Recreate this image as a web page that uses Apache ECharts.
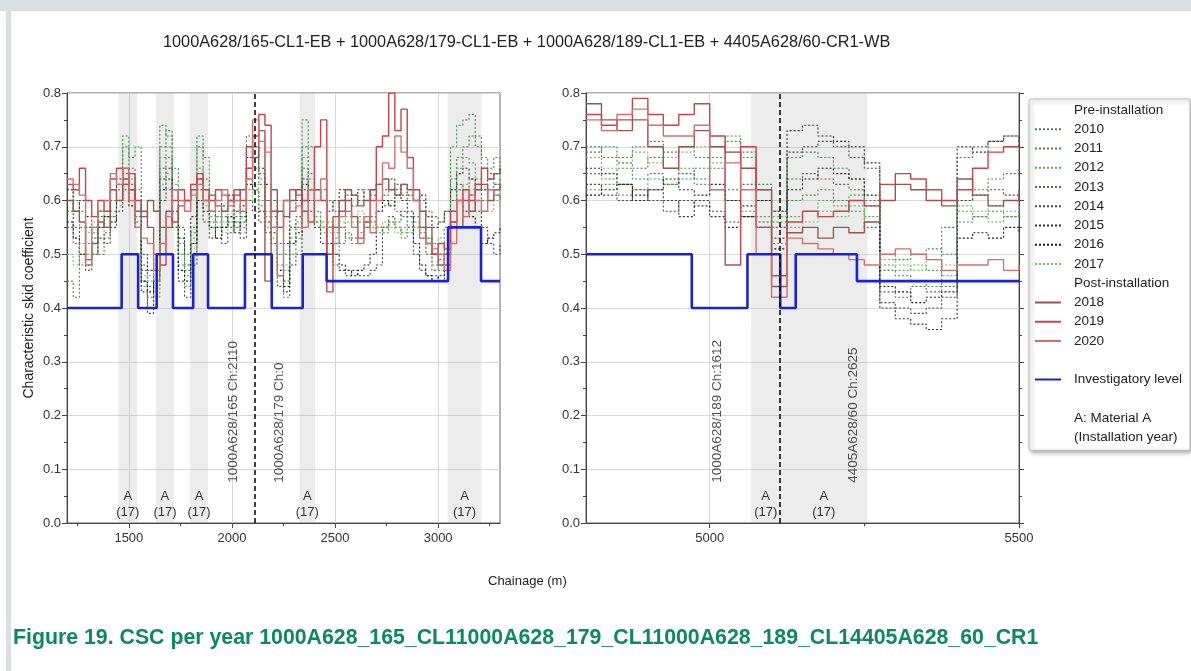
<!DOCTYPE html>
<html><head><meta charset="utf-8">
<script src="https://cdn.jsdelivr.net/npm/echarts@6/dist/echarts.min.js"></script>
<style>html,body{margin:0;padding:0;background:#fff}#c{width:1191px;height:671px}</style>
</head><body><div id="c"></div>
<script>
const titleText = '1000A628/165-CL1-EB + 1000A628/179-CL1-EB + 1000A628/189-CL1-EB + 4405A628/60-CR1-WB';
const captionText = 'Figure 19. CSC per year 1000A628_165_CL11000A628_179_CL11000A628_189_CL14405A628_60_CR1';
const xName = 'Chainage (m)';
const yName = 'Characteristic skid coefficient';

const preYears = ['2010','2011','2012','2013','2014','2015','2016','2017'];
const postYears = ['2018','2019','2020'];

const leftTicks = [1500, 2000, 2500, 3000];
const leftMinorTicks = [1250, 1750, 2250, 2750, 3250];
const rightTicks = [5000, 5500];
const rightMinorTicks = [5250];

const leftChainage = [1200,1230,1260,1290,1320,1350,1380,1410,1440,1470,1500,1530,1560,1590,1620,1650,1680,1710,1740,1770,1800,1830,1860,1890,1920,1950,1980,2010,2040,2070,2100,2130,2160,2190,2220,2250,2280,2310,2340,2370,2400,2430,2460,2490,2520,2550,2580,2610,2640,2670,2700,2730,2760,2790,2820,2850,2880,2910,2940,2970,3000,3030,3060,3090,3120,3150,3180,3210,3240,3270,3300];
const rightChainage = [4800,4825,4850,4875,4900,4925,4950,4975,5000,5025,5050,5075,5100,5125,5150,5175,5200,5225,5250,5275,5300,5325,5350,5375,5400,5425,5450,5475,5500];

// Left panel, pre-installation
const left2010 = [0.45,0.42,0.50,0.55,0.53,0.57,0.55,0.58,0.60, 0.70,0.66,0.62, 0.45,0.42,0.44, 0.70,0.73,0.62, 0.48,0.46,0.52, 0.70,0.64, 0.58,0.57,0.55,0.56,0.58,0.57, 0.66,0.70,0.65,0.60,0.58, 0.50,0.45,0.55,0.56, 0.70,0.65,0.58, 0.56,0.55,0.50,0.52,0.54,0.53,0.56,0.55,0.57, 0.58,0.59,0.60,0.58,0.57,0.55, 0.56,0.54,0.50,0.47,0.49,0.52, 0.64,0.68,0.70,0.72,0.70,0.66, 0.65,0.63,0.64];
const left2011 = [0.55,0.52,0.48,0.50,0.54,0.58,0.57,0.60,0.63, 0.72,0.68,0.70, 0.48,0.40,0.46, 0.74,0.72,0.66, 0.52,0.47,0.55, 0.72,0.68, 0.60,0.56,0.58,0.60,0.55,0.57, 0.72,0.68,0.63,0.58,0.55, 0.46,0.42,0.50,0.55, 0.75,0.70,0.62, 0.60,0.56,0.54,0.55,0.53,0.52,0.54,0.55,0.56, 0.55,0.54,0.56,0.55,0.54,0.55, 0.57,0.55,0.53,0.52,0.50,0.55, 0.70,0.74,0.75,0.76,0.72,0.68, 0.66,0.68,0.65];
const left2012 = [0.60,0.58,0.55,0.52,0.50,0.55,0.53,0.56,0.60, 0.66,0.64,0.60, 0.44,0.46,0.42, 0.68,0.70,0.63, 0.50,0.44,0.50, 0.66,0.62, 0.57,0.55,0.56,0.58,0.56,0.55, 0.64,0.63,0.60,0.57,0.55, 0.48,0.47,0.52,0.53, 0.68,0.64,0.57, 0.54,0.55,0.53,0.55,0.56,0.55,0.57,0.56,0.55, 0.54,0.55,0.56,0.55,0.53,0.54, 0.55,0.53,0.50,0.48,0.47,0.50, 0.62,0.66,0.68,0.67,0.64,0.62, 0.60,0.61,0.60];
const left2013 = [0.62,0.60,0.58,0.55,0.52,0.50,0.54,0.57,0.62, 0.65,0.63,0.57, 0.47,0.44,0.48, 0.66,0.68,0.60, 0.55,0.50,0.54, 0.64,0.60, 0.56,0.58,0.57,0.55,0.57,0.60, 0.62,0.66,0.64,0.60,0.57, 0.52,0.50,0.55,0.57, 0.66,0.62,0.60, 0.62,0.60,0.58,0.60,0.61,0.59,0.60,0.62,0.61, 0.60,0.61,0.62,0.63,0.61,0.60, 0.62,0.60,0.58,0.57,0.56,0.58, 0.60,0.63,0.62,0.64,0.62,0.60, 0.62,0.63,0.62];
const left2014 = [0.58,0.55,0.50,0.47,0.50,0.53,0.52,0.55,0.58, 0.62,0.60,0.56, 0.43,0.39,0.45, 0.60,0.62,0.55, 0.45,0.42,0.48, 0.60,0.56, 0.53,0.55,0.52,0.54,0.56,0.53, 0.60,0.58,0.56,0.54,0.52, 0.44,0.43,0.48,0.50, 0.62,0.58,0.55, 0.52,0.50,0.48,0.47,0.46,0.47,0.46,0.46,0.47, 0.48,0.55,0.57,0.56,0.58,0.57, 0.50,0.47,0.46,0.46,0.45,0.47, 0.58,0.62,0.60,0.61,0.58,0.55, 0.52,0.50,0.52];
const left2015 = [0.62,0.58,0.60,0.57,0.55,0.58,0.60,0.62,0.64, 0.66,0.62,0.60, 0.50,0.47,0.49, 0.64,0.66,0.62, 0.53,0.48,0.57, 0.62,0.60, 0.58,0.60,0.59,0.61,0.58,0.59, 0.68,0.70,0.66,0.63,0.60, 0.55,0.52,0.58,0.60, 0.64,0.60,0.62, 0.60,0.58,0.60,0.62,0.60,0.61,0.62,0.60,0.62, 0.63,0.62,0.64,0.62,0.63,0.61, 0.60,0.61,0.57,0.55,0.56,0.58, 0.62,0.65,0.66,0.64,0.63,0.62, 0.64,0.65,0.66];
const left2016 = [0.56,0.53,0.50,0.48,0.52,0.55,0.57,0.56,0.60, 0.63,0.59,0.55, 0.45,0.43,0.47, 0.62,0.64,0.58, 0.47,0.45,0.52, 0.60,0.58, 0.55,0.53,0.55,0.57,0.54,0.56, 0.63,0.62,0.58,0.56,0.54, 0.47,0.44,0.52,0.54, 0.63,0.60,0.56, 0.55,0.52,0.50,0.48,0.47,0.46,0.47,0.48,0.50, 0.58,0.60,0.59,0.61,0.60,0.58, 0.52,0.48,0.46,0.45,0.46,0.48, 0.56,0.60,0.58,0.57,0.55,0.52, 0.53,0.54,0.55];
const left2017 = [0.50,0.48,0.52,0.54,0.56,0.55,0.58,0.57,0.59, 0.64,0.62,0.58, 0.46,0.45,0.50, 0.63,0.65,0.60, 0.50,0.48,0.53, 0.63,0.59, 0.55,0.57,0.54,0.56,0.55,0.54, 0.60,0.62,0.59,0.55,0.53, 0.50,0.48,0.53,0.55, 0.64,0.60,0.56, 0.55,0.54,0.55,0.56,0.57,0.56,0.58,0.57,0.56, 0.55,0.56,0.55,0.54,0.55,0.56, 0.55,0.54,0.53,0.52,0.53,0.55, 0.60,0.62,0.63,0.62,0.60,0.58, 0.58,0.60,0.59];
// Left panel, post-installation
const left2018 = [0.60,0.58,0.56,0.49,0.52,0.56,0.55,0.62,0.60, 0.64,0.62,0.58, 0.57,0.60,0.58, 0.55,0.58,0.56, 0.59,0.60,0.62, 0.64,0.60, 0.61,0.59,0.58,0.60,0.61,0.62, 0.70,0.68,0.73,0.45,0.62, 0.58,0.57,0.60,0.62, 0.58,0.56,0.62, 0.60,0.50,0.57,0.60,0.62,0.61,0.59,0.60,0.62, 0.63,0.64,0.62,0.61,0.63,0.62, 0.60,0.58,0.55,0.50,0.48,0.50, 0.58,0.55,0.60,0.58,0.62,0.63, 0.60,0.62,0.63];
const left2019 = [0.63,0.62,0.66,0.60,0.57,0.60,0.58,0.64,0.66, 0.63,0.65,0.60, 0.58,0.55,0.50, 0.48,0.55,0.60, 0.62,0.60,0.63, 0.65,0.62, 0.60,0.62,0.61,0.60,0.62,0.60, 0.66,0.72,0.76,0.74,0.58, 0.55,0.60,0.62,0.61, 0.60,0.62,0.70, 0.75,0.43,0.55,0.58,0.60,0.57,0.53,0.56,0.60, 0.70,0.72,0.80,0.73,0.77,0.68, 0.62,0.55,0.52,0.50,0.52,0.51, 0.56,0.60,0.62,0.60,0.63,0.66, 0.64,0.65,0.66];
const left2020 = [0.64,0.63,0.61,0.48,0.55,0.58,0.60,0.65,0.63, 0.66,0.60,0.55, 0.53,0.52,0.47, 0.52,0.57,0.62, 0.60,0.58,0.61, 0.63,0.60, 0.58,0.60,0.62,0.59,0.60,0.58, 0.64,0.75,0.71,0.69,0.55, 0.46,0.60,0.58,0.59, 0.55,0.62,0.60, 0.64,0.55,0.52,0.57,0.58,0.55,0.52,0.57,0.54, 0.60,0.67,0.66,0.72,0.69,0.66, 0.60,0.53,0.52,0.51,0.50,0.47, 0.52,0.60,0.57,0.61,0.60,0.58, 0.62,0.61,0.60];

// Right panel, pre-installation
const right2010 = [0.69,0.70,0.68,0.70,0.71,0.69,0.70,0.68,0.70,0.71,0.68,0.62,0.58,0.68,0.69,0.68,0.66,0.64,0.60,0.47,0.46,0.45,0.44,0.55,0.56,0.57,0.58,0.57,0.58];
const right2011 = [0.65,0.64,0.66,0.64,0.65,0.63,0.64,0.66,0.68,0.72,0.69,0.63,0.56,0.60,0.61,0.62,0.60,0.58,0.55,0.50,0.49,0.50,0.51,0.50,0.60,0.62,0.64,0.65,0.66];
const right2012 = [0.62,0.63,0.61,0.62,0.64,0.63,0.66,0.63,0.62,0.60,0.58,0.57,0.52,0.57,0.58,0.60,0.59,0.61,0.57,0.48,0.47,0.48,0.47,0.46,0.58,0.57,0.56,0.57,0.57];
const right2013 = [0.70,0.68,0.67,0.66,0.68,0.66,0.65,0.64,0.66,0.62,0.63,0.60,0.55,0.64,0.65,0.64,0.63,0.62,0.59,0.43,0.42,0.44,0.43,0.44,0.68,0.70,0.71,0.72,0.71];
const right2014 = [0.63,0.61,0.60,0.62,0.60,0.58,0.60,0.59,0.58,0.56,0.57,0.56,0.53,0.69,0.70,0.71,0.70,0.68,0.66,0.41,0.40,0.39,0.40,0.42,0.60,0.61,0.62,0.61,0.60];
const right2015 = [0.66,0.65,0.63,0.61,0.62,0.60,0.57,0.60,0.57,0.55,0.59,0.60,0.58,0.73,0.74,0.72,0.71,0.70,0.67,0.40,0.38,0.37,0.36,0.38,0.70,0.69,0.71,0.72,0.70];
const right2016 = [0.61,0.62,0.63,0.60,0.62,0.64,0.62,0.61,0.63,0.60,0.57,0.55,0.51,0.62,0.64,0.66,0.65,0.64,0.61,0.44,0.43,0.41,0.42,0.43,0.53,0.54,0.53,0.55,0.54];
const right2017 = [0.68,0.66,0.67,0.69,0.67,0.68,0.69,0.70,0.67,0.69,0.66,0.62,0.57,0.55,0.56,0.58,0.57,0.59,0.56,0.49,0.48,0.47,0.49,0.48,0.59,0.58,0.59,0.58,0.59];
// Right panel, post-installation
const right2018 = [0.78,0.75,0.73,0.75,0.70,0.66,0.70,0.73,0.70,0.69,0.66,0.62,0.44,0.54,0.55,0.53,0.55,0.54,0.56,0.60,0.63,0.62,0.60,0.59,0.64,0.61,0.59,0.60,0.62];
const right2019 = [0.76,0.74,0.75,0.79,0.76,0.74,0.76,0.78,0.72,0.48,0.70,0.55,0.46,0.56,0.58,0.57,0.58,0.60,0.59,0.63,0.65,0.64,0.62,0.60,0.62,0.66,0.69,0.70,0.70];
const right2020 = [0.75,0.73,0.76,0.77,0.74,0.72,0.72,0.74,0.62,0.67,0.62,0.50,0.42,0.53,0.52,0.51,0.50,0.49,0.48,0.50,0.51,0.50,0.49,0.47,0.48,0.48,0.49,0.47,0.48];

// Investigatory level (step breakpoints)
const leftLevelChainage = [1200,1465,1545,1635,1714,1812,1884,2063,2193,2343,2459,3048,3208,3300];
const leftLevelValue    = [0.40,0.50,0.40,0.50,0.40,0.50,0.40,0.50,0.40,0.50,0.45,0.55,0.45,0.45];
const rightLevelChainage = [4800,4971,5061,5114,5139,5238,5500];
const rightLevelValue    = [0.50,0.40,0.50,0.40,0.50,0.45,0.45];

// Material A sections (start, end) and section boundaries
const leftBands = [[1450,1540],[1632,1718],[1797,1884],[2328,2403],[3046,3210]];
const rightBands = [[5067,5114],[5114,5255]];
const bandLabel = 'A\n(17)';
const leftBoundary = 2110;
const rightBoundary = 5114;
const leftSectionLabels = [[2005, 0.075, '1000A628/165 Ch:2110'], [2228, 0.075, '1000A628/179 Ch:0']];
const rightSectionLabels = [[5013, 0.075, '1000A628/189 Ch:1612'], [5232, 0.075, '4405A628/60 Ch:2625']];

const leftData = {'2010':left2010,'2011':left2011,'2012':left2012,'2013':left2013,'2014':left2014,'2015':left2015,'2016':left2016,'2017':left2017,'2018':left2018,'2019':left2019,'2020':left2020};
const rightData = {'2010':right2010,'2011':right2011,'2012':right2012,'2013':right2013,'2014':right2014,'2015':right2015,'2016':right2016,'2017':right2017,'2018':right2018,'2019':right2019,'2020':right2020};

const colors = {
  '2010':'#52805a','2011':'#3f8f45','2012':'#5ea35e','2013':'#5b6b5b',
  '2014':'#4a4a4a','2015':'#333333','2016':'#1e1e1e','2017':'#7dbb70',
  '2018':'#9a5552','2019':'#c4454c','2020':'#d2706f'
};
const blue = '#1a22d8';
const FONT = 'Liberation Sans, Arial, Helvetica, sans-serif';

const chart = echarts.init(document.getElementById('c'), null, {renderer:'canvas'});

function yearSeries(year, xi, yi, chain, vals) {
  const isPre = preYears.includes(year);
  return {
    name: year, type: 'line', step: 'end', xAxisIndex: xi, yAxisIndex: yi,
    symbol: 'none', silent: true, z: isPre ? 2 : 3,
    data: chain.map((c, i) => [c, vals[i]]),
    lineStyle: isPre ? {color: colors[year], width: 1.1, type: [2, 2]} : {color: colors[year], width: 1.4},
    itemStyle: {color: colors[year]}
  };
}
function levelSeries(xi, yi, chain, vals, bands, boundary) {
  return {
    name: 'Investigatory level', type: 'line', step: 'end', xAxisIndex: xi, yAxisIndex: yi,
    symbol: 'none', silent: true, z: 4,
    data: chain.map((c, i) => [c, vals[i]]),
    lineStyle: {color: blue, width: 2.6}, itemStyle: {color: blue},
    markArea: {
      silent: true,
      itemStyle: {color: 'rgba(170,170,170,0.22)'},
      label: {show: true, position: 'insideBottom', distance: 3, formatter: bandLabel,
              fontSize: 13, lineHeight: 16, color: '#333', fontFamily: FONT},
      data: bands.map(b => [{xAxis: b[0]}, {xAxis: b[1]}])
    },
    markLine: {
      silent: true, symbol: ['none','none'], label: {show: false},
      lineStyle: {color: '#111', type: [5, 3], width: 1.6},
      data: [{xAxis: boundary}]
    }
  };
}
function textSeries(xi, yi, items) {
  return {
    type: 'scatter', name: '_labels' + xi, xAxisIndex: xi, yAxisIndex: yi, silent: true,
    symbolSize: 0, data: items, z: 5,
    label: {show: true, position: 'inside', rotate: 90, align: 'left', verticalAlign: 'middle',
            formatter: p => p.data[2], fontSize: 13.5, color: '#222', fontFamily: FONT}
  };
}
function dummy(name) {
  return {name: name, type: 'line', xAxisIndex: 0, yAxisIndex: 0, data: [], symbol: 'none',
          lineStyle: {opacity: 0}, itemStyle: {opacity: 0}};
}

const series = [];
preYears.concat(postYears).forEach(y => series.push(yearSeries(y, 0, 0, leftChainage, leftData[y])));
preYears.concat(postYears).forEach(y => series.push(yearSeries(y, 2, 1, rightChainage, rightData[y])));
series.push(levelSeries(0, 0, leftLevelChainage, leftLevelValue, leftBands, leftBoundary));
series.push(levelSeries(2, 1, rightLevelChainage, rightLevelValue, rightBands, rightBoundary));
series.push(textSeries(0, 0, leftSectionLabels));
series.push(textSeries(2, 1, rightSectionLabels));
['Pre-installation','Post-installation',' ','  ','A: Material A','(Installation year)'].forEach(n => series.push(dummy(n)));

const axisLabelStyle = {fontSize: 13, color: '#333', fontFamily: FONT};
const splitLineStyle = {show: true, lineStyle: {color: '#d8d8d8', width: 1}};
const axisLineStyle = {show: true, lineStyle: {color: '#444', width: 1}};

function mainX(grid, min, max, ticks) {
  return {type: 'value', gridIndex: grid, min: min, max: max, position: 'bottom',
    axisLine: axisLineStyle,
    axisTick: {show: true, length: 5, customValues: ticks, lineStyle: {color: '#444'}},
    axisLabel: Object.assign({customValues: ticks, margin: 9, formatter: v => String(v)}, axisLabelStyle),
    splitLine: splitLineStyle};
}
function minorX(grid, min, max, ticks) {
  return {type: 'value', gridIndex: grid, min: min, max: max, position: 'bottom',
    axisLine: {show: false},
    axisTick: {show: true, length: 3, customValues: ticks, lineStyle: {color: '#444'}},
    axisLabel: {show: false, customValues: ticks},
    splitLine: {show: false}};
}
function mainY(grid, withName) {
  const a = {type: 'value', gridIndex: grid, min: 0, max: 0.8, interval: 0.1, position: 'left',
    axisLine: axisLineStyle,
    axisTick: {show: true, length: 5, lineStyle: {color: '#444'}},
    minorTick: {show: true, splitNumber: 2, length: 3, lineStyle: {color: '#444'}},
    axisLabel: Object.assign({margin: 6, formatter: v => v.toFixed(1)}, axisLabelStyle),
    splitLine: splitLineStyle};
  if (withName) {
    a.name = yName; a.nameLocation = 'middle'; a.nameGap = 31;
    a.nameTextStyle = {fontSize: 14, color: '#222', fontFamily: FONT};
  }
  return a;
}

const legendData = [{name: 'Pre-installation', icon: 'none'}]
  .concat(preYears)
  .concat([{name: 'Post-installation', icon: 'none'}])
  .concat(postYears)
  .concat([{name: ' ', icon: 'none'}, 'Investigatory level', {name: '  ', icon: 'none'},
           {name: 'A: Material A', icon: 'none'}, {name: '(Installation year)', icon: 'none'}]);

chart.setOption({
  animation: false,
  backgroundColor: '#ffffff',
  textStyle: {fontFamily: FONT},
  title: [
    {text: titleText, left: 163, top: 35, padding: 0, textStyle: {fontSize: 16.3, fontWeight: 'normal', color: '#222', fontFamily: FONT}},
    {text: xName, left: 488, top: 575, padding: 0, textStyle: {fontSize: 13, fontWeight: 'normal', color: '#222', fontFamily: FONT}},
    {text: captionText, left: 13, top: 628, padding: 0, textStyle: {fontSize: 21.3, fontWeight: 'bold', color: '#0b8a5c', fontFamily: FONT}}
  ],
  graphic: [
    {type: 'rect', silent: true, shape: {x: 0, y: 0, width: 1191, height: 11}, style: {fill: '#dcdfe2'}},
    {type: 'rect', silent: true, shape: {x: 6, y: 0, width: 5, height: 671}, style: {fill: '#dcdfe2'}}
  ],
  legend: {
    orient: 'vertical', left: 1029, top: 99, selectedMode: false,
    itemWidth: 26, itemHeight: 14, itemGap: 5.25,
    padding: [4, 8, 6, 5],
    itemStyle: {opacity: 0},
    backgroundColor: '#fff', borderColor: '#bdbdbd', borderWidth: 1, borderRadius: 2,
    shadowBlur: 4, shadowColor: 'rgba(0,0,0,0.35)', shadowOffsetX: 2, shadowOffsetY: 2,
    textStyle: {fontSize: 13.5, color: '#222', fontFamily: FONT, padding: [0, 0, 0, 8]},
    data: legendData
  },
  grid: [
    {left: 67, top: 93, width: 433, height: 430, show: true, borderColor: '#666', borderWidth: 1},
    {left: 586, top: 93, width: 433, height: 430, show: true, borderColor: '#666', borderWidth: 1}
  ],
  xAxis: [
    mainX(0, 1200, 3300, leftTicks), minorX(0, 1200, 3300, leftMinorTicks),
    mainX(1, 4800, 5500, rightTicks), minorX(1, 4800, 5500, rightMinorTicks)
  ],
  yAxis: [
    mainY(0, true), mainY(1, false),
    {type: 'value', gridIndex: 1, min: 0, max: 0.8, interval: 0.1, position: 'right',
     axisLine: axisLineStyle, axisTick: {show: true, length: 5, lineStyle: {color: '#444'}},
     minorTick: {show: true, splitNumber: 2, length: 3, lineStyle: {color: '#444'}},
     axisLabel: {show: false}, splitLine: {show: false}}
  ],
  series: series
});
</script></body></html>
